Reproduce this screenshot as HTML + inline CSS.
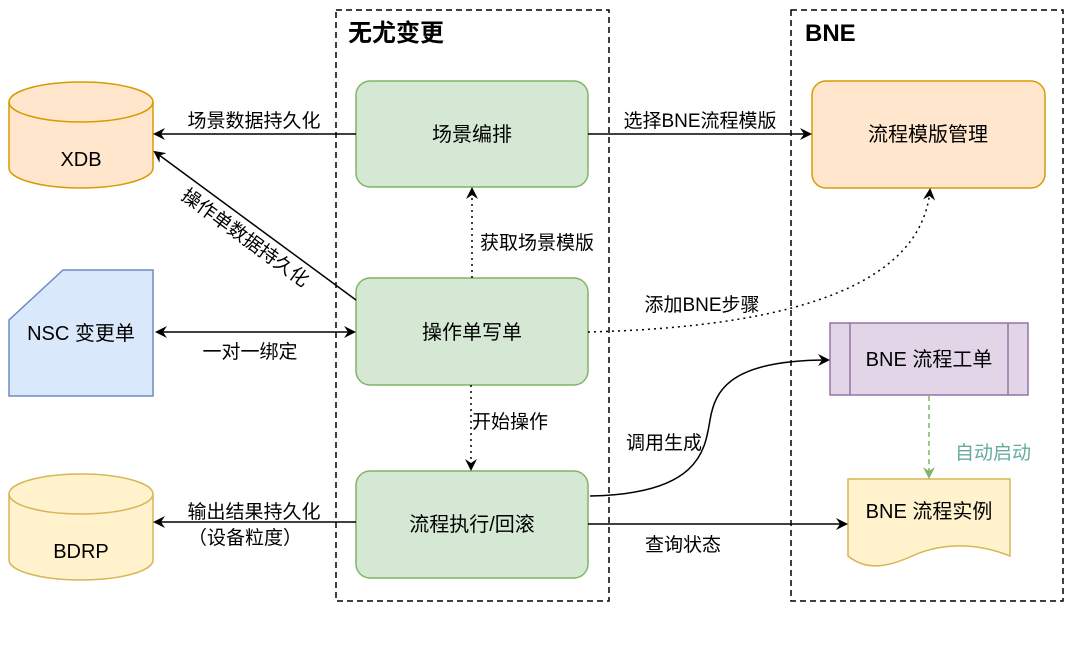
<!DOCTYPE html>
<html><head><meta charset="utf-8"><style>
body{margin:0;background:#fff}
text{font-family:"Liberation Sans","Noto Sans CJK SC",sans-serif;font-size:19px;fill:#000}
.b{font-size:20px}
</style></head><body>
<svg width="1080" height="654" viewBox="0 0 1080 654" xmlns="http://www.w3.org/2000/svg">
<defs>
<marker id="a" markerWidth="12" markerHeight="12" refX="10" refY="6" orient="auto" markerUnits="userSpaceOnUse"><path d="M0,0 L12,6 L0,12 L4,6z" fill="#000"/></marker>
<marker id="as" markerWidth="12" markerHeight="12" refX="2" refY="6" orient="auto" markerUnits="userSpaceOnUse"><path d="M12,0 L0,6 L12,12 L8,6z" fill="#000"/></marker>
<marker id="g" markerWidth="12" markerHeight="12" refX="10" refY="6" orient="auto" markerUnits="userSpaceOnUse"><path d="M0,0 L12,6 L0,12 L4,6z" fill="#82b366"/></marker>
</defs>
<rect x="336" y="10" width="273" height="591" fill="none" stroke="#000" stroke-width="1.5" stroke-dasharray="6,4"/>
<rect x="791" y="10" width="272" height="591" fill="none" stroke="#000" stroke-width="1.5" stroke-dasharray="6,4"/>
<text x="348" y="41" style="font-size:24px;font-weight:bold">无尤变更</text>
<text x="805" y="41" style="font-size:24px;font-weight:bold">BNE</text>

<rect x="356" y="81" width="232" height="106" rx="14" fill="#d5e8d4" stroke="#82b366" stroke-width="1.5"/>
<text class="b" x="472" y="141" text-anchor="middle">场景编排</text>
<rect x="356" y="278" width="232" height="107" rx="14" fill="#d5e8d4" stroke="#82b366" stroke-width="1.5"/>
<text class="b" x="472" y="339" text-anchor="middle">操作单写单</text>
<rect x="356" y="471" width="232" height="107" rx="14" fill="#d5e8d4" stroke="#82b366" stroke-width="1.5"/>
<text class="b" x="472" y="531" text-anchor="middle">流程执行/回滚</text>

<rect x="812" y="81" width="233" height="107" rx="14" fill="#ffe6cc" stroke="#d79b00" stroke-width="1.5"/>
<text class="b" x="928" y="141" text-anchor="middle">流程模版管理</text>

<rect x="830" y="323" width="198" height="72" fill="#e1d5e7" stroke="#9673a6" stroke-width="1.5"/>
<line x1="850" y1="323" x2="850" y2="395" stroke="#9673a6" stroke-width="1.5"/>
<line x1="1008" y1="323" x2="1008" y2="395" stroke="#9673a6" stroke-width="1.5"/>
<text class="b" x="929" y="366" text-anchor="middle">BNE 流程工单</text>

<path d="M848,479 H1010 V556 C970,540 935,545 910,557 C885,568 865,570 848,556 Z" fill="#fff2cc" stroke="#d6b656" stroke-width="1.5"/>
<text class="b" x="929" y="518" text-anchor="middle">BNE 流程实例</text>

<path d="M9,102 A72,20 0 0 1 153,102 V168 A72,20 0 0 1 9,168 Z" fill="#ffe6cc" stroke="#d79b00" stroke-width="1.5"/>
<path d="M9,102 A72,20 0 0 0 153,102" fill="none" stroke="#d79b00" stroke-width="1.5"/>
<text class="b" x="81" y="166" text-anchor="middle">XDB</text>
<path d="M9,494 A72,20 0 0 1 153,494 V560 A72,20 0 0 1 9,560 Z" fill="#fff2cc" stroke="#d6b656" stroke-width="1.5"/>
<path d="M9,494 A72,20 0 0 0 153,494" fill="none" stroke="#d6b656" stroke-width="1.5"/>
<text class="b" x="81" y="558" text-anchor="middle">BDRP</text>

<path d="M63,270 H153 V396 H9 V320 Z" fill="#dae8fc" stroke="#6c8ebf" stroke-width="1.5"/>
<text class="b" x="81" y="340" text-anchor="middle">NSC 变更单</text>

<line x1="356" y1="134" x2="155" y2="134" stroke="#000" stroke-width="1.5" marker-end="url(#a)"/>
<text x="254" y="127" text-anchor="middle">场景数据持久化</text>
<line x1="356" y1="300" x2="155" y2="152" stroke="#000" stroke-width="1.5" marker-end="url(#a)"/>
<text x="245" y="244" text-anchor="middle" transform="rotate(36 245 238)">操作单数据持久化</text>
<line x1="157" y1="332" x2="354" y2="332" stroke="#000" stroke-width="1.5" marker-start="url(#as)" marker-end="url(#a)"/>
<text x="250" y="358" text-anchor="middle">一对一绑定</text>
<line x1="356" y1="522" x2="155" y2="522" stroke="#000" stroke-width="1.5" marker-end="url(#a)"/>
<text x="254" y="518" text-anchor="middle">输出结果持久化</text>
<text x="245" y="544" text-anchor="middle">（设备粒度）</text>

<line x1="472" y1="278" x2="472" y2="189" stroke="#000" stroke-width="1.5" stroke-dasharray="2,4" marker-end="url(#a)"/>
<text x="537" y="249" text-anchor="middle">获取场景模版</text>
<line x1="471" y1="385" x2="471" y2="469" stroke="#000" stroke-width="1.5" stroke-dasharray="2,4" marker-end="url(#a)"/>
<text x="510" y="428" text-anchor="middle">开始操作</text>

<line x1="588" y1="134" x2="810" y2="134" stroke="#000" stroke-width="1.5" marker-end="url(#a)"/>
<text x="700" y="127" text-anchor="middle">选择BNE流程模版</text>
<path d="M588,332 C750,328 920,300 930,190" fill="none" stroke="#000" stroke-width="1.5" stroke-dasharray="2,4" marker-end="url(#a)"/>
<text x="702" y="311" text-anchor="middle">添加BNE步骤</text>
<path d="M590,496 C700,494 705,450 710,420 C715,390 730,360 828,360" fill="none" stroke="#000" stroke-width="1.5" marker-end="url(#a)"/>
<text x="664" y="449" text-anchor="middle">调用生成</text>
<line x1="588" y1="524" x2="846" y2="524" stroke="#000" stroke-width="1.5" marker-end="url(#a)"/>
<text x="683" y="551" text-anchor="middle">查询状态</text>

<line x1="929" y1="396" x2="929" y2="477" stroke="#82b366" stroke-width="1.5" stroke-dasharray="5,4" marker-end="url(#g)"/>
<text x="993" y="459" text-anchor="middle" style="fill:#67ab9f">自动启动</text>
</svg>
</body></html>
